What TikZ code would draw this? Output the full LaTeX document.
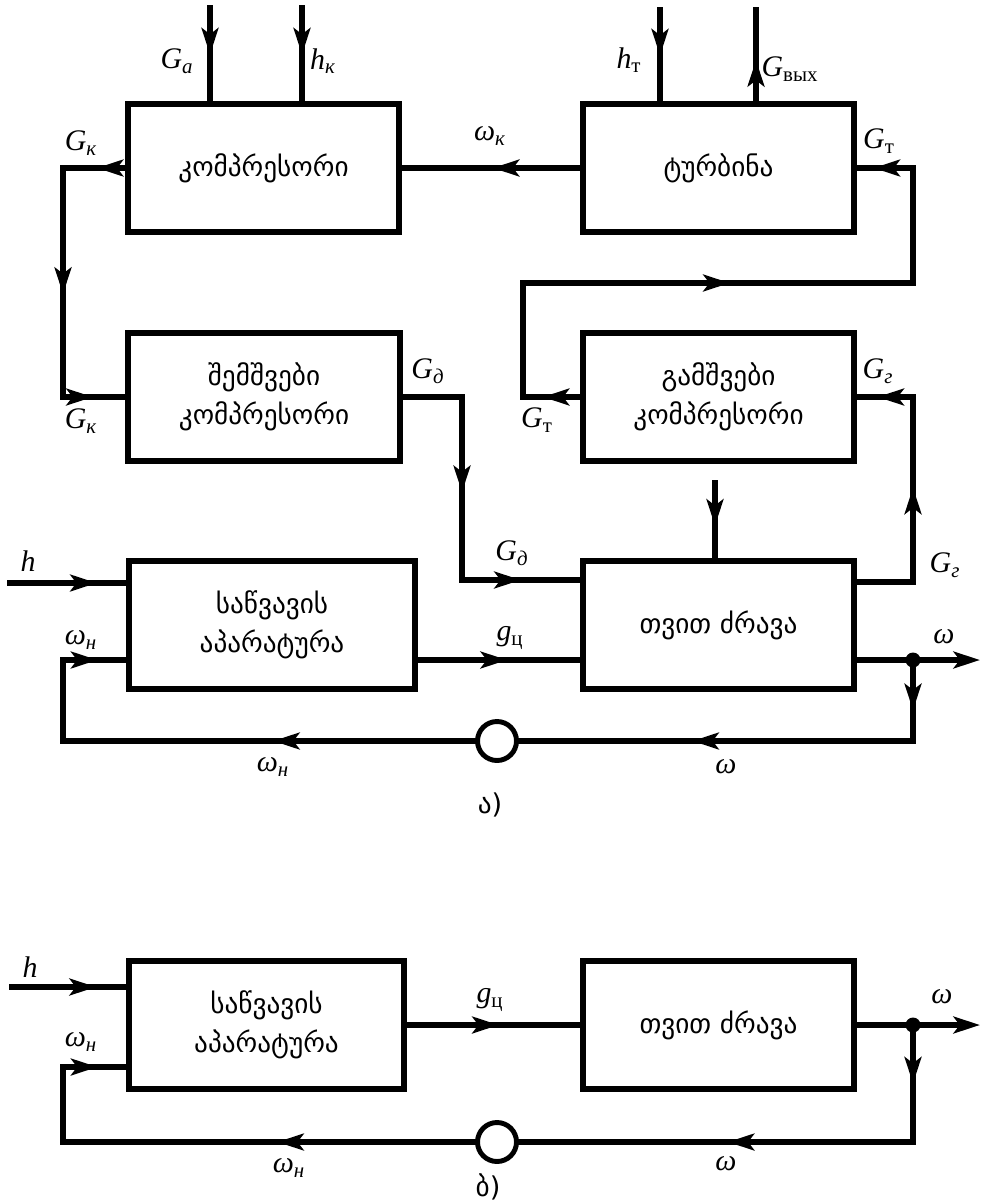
\documentclass[tikz,border=0pt]{standalone}
\usepackage{fontspec}
\newfontfamily\geo{DejaVu Sans}
\newfontfamily\lat{Liberation Serif}
\usetikzlibrary{arrows.meta,positioning,decorations.markings}
\newcommand{\ind}[2]{\textit{#1}\textsubscript{#2}}

\begin{document}
\begin{tikzpicture}[
    x=0.02cm, y=-0.02cm,
    bloc/.style={
        draw,
        line width=3.4pt,
        minimum width=5.44cm,
        minimum height=2.56cm,
        inner sep=0pt,
        align=center,
        font=\geo\fontsize{15.5}{22}\selectfont
    },
    lien/.style={
        line width=3pt,
        line cap=rect
    },
    fleche/.style={
        lien,
        postaction={decorate},
        decoration={markings,
            mark=at position #1 with {\arrow{Stealth[length=15pt,width=9.5pt,inset=3.5pt]}}}
    },
    fleche/.default=0.5,
    sortie/.style={
        lien,
        -{Stealth[length=15pt,width=9.5pt,inset=3.5pt]}
    },
    somme/.style={
        circle,
        draw,
        line width=2.8pt,
        minimum size=0.78cm,
        inner sep=0pt
    },
    formule/.style={
        font=\lat\fontsize{17}{20}\selectfont
    },
    titre/.style={
        font=\geo\fontsize{15.5}{18}\selectfont
    }
]
\useasboundingbox (0,0) rectangle (982,1203);

% schema a)
\node[bloc] (komp) at (263.5,168) {კომპრესორი};
\node[bloc] (turb) at (718.5,168) {ტურბინა};
\node[bloc] (shem) at (264,397) {შემშვები\\კომპრესორი};
\node[bloc] (gamsh) at (718.5,397) {გამშვები\\კომპრესორი};
\node[bloc, minimum width=5.74cm] (sapsa) at (272,625) {საწვავის\\აპარატურა};
\node[bloc] (dzrava) at (718.5,625) {თვით ძრავა};
\node[somme] (sum) at (497,741) {};

\coordinate (ga) at (210,8);
\coordinate (hk) at (302,8);
\coordinate (ht) at (660,10);
\coordinate (gv) at (756,10);
\draw[fleche] (ga) -- (ga |- komp.north);
\draw[fleche] (hk) -- (hk |- komp.north);
\draw[fleche] (ht) -- (ht |- turb.north);
\draw[fleche=0.45] (gv |- turb.north) -- (gv);
\draw[fleche=0.49] (turb) -- (komp);

\coordinate (k1) at (63,168);
\coordinate (k2) at (63,397);
\draw[fleche=0.45] (komp.west) -- (k1);
\draw[fleche=0.55] (k1) -- (k2);
\draw[fleche=0.48] (k2) -- (shem.west);

\coordinate (d1) at (462,397);
\coordinate (d2) at (462,580);
\draw[lien] (shem.east) -- (d1);
\draw[fleche=0.52] (d1) -- (d2);
\draw[fleche=0.5] (d2) -- (d2 -| dzrava.west);

\coordinate (g1) at (913,582);
\coordinate (g2) at (913,397);
\draw[lien] (g1 -| dzrava.east) -- (g1);
\draw[fleche=0.51] (g1) -- (g2);
\draw[fleche=0.64] (g2) -- (gamsh.east);

\coordinate (gm) at (715,483);
\draw[fleche=0.57] (gm) -- (gm |- dzrava.north);

\coordinate (t1) at (523,397);
\coordinate (t2) at (523,283);
\coordinate (t3) at (913,283);
\coordinate (t4) at (913,168);
\draw[fleche=0.65] (gamsh.west) -- (t1);
\draw[lien] (t1) -- (t2);
\draw[fleche=0.53] (t2) -- (t3);
\draw[lien] (t3) -- (t4);
\draw[fleche=0.71] (t4) -- (turb.east);

\coordinate (h0) at (10,583);
\coordinate (n1) at (63,660);
\coordinate (n2) at (63,741);
\draw[fleche=0.75] (h0) -- (h0 -| sapsa.west);
\draw[fleche=0.55] (n1) -- (n1 -| sapsa.west);
\draw[lien] (n2) -- (n1);
\draw[fleche=0.49] (sum) -- (n2);
\draw[fleche=0.55] (n1 -| sapsa.east) -- (n1 -| dzrava.west);

\coordinate (j) at (913,660);
\coordinate (w0) at (980,660);
\coordinate (w1) at (913,741);
\draw[lien] (j -| dzrava.east) -- (j);
\draw[sortie] (j) -- (w0);
\draw[fleche=0.62] (j) -- (w1);
\draw[fleche=0.56] (w1) -- (sum);
\fill (j) circle (0.15cm);

\node[formule] (lga) at (177,61) {\ind{G}{\textit{a}}};
\node[formule] (lhk) at (323,61) {\ind{h}{\textit{к}}};
\node[formule] (lgk1) at (81,143) {\ind{G}{\textit{к}}};
\node[formule] (lwk) at (490,136) {\ind{ω}{\textit{к}}};
\node[formule] (lht) at (629,60) {\ind{h}{т}};
\node[formule] (lgv) at (790,69) {\ind{G}{вых}};
\node[formule] (lgt1) at (879,141) {\ind{G}{т}};
\node[formule] (lgk2) at (81,421) {\ind{G}{\textit{к}}};
\node[formule] (lgd1) at (428,371) {\ind{G}{\textit{д}}};
\node[formule] (lgt2) at (537,420) {\ind{G}{т}};
\node[formule] (lgg1) at (878,371) {\ind{G}{\textit{г}}};
\node[formule] (lgg2) at (945,565) {\ind{G}{\textit{г}}};
\node[formule] (lgd2) at (512,553) {\ind{G}{\textit{д}}};
\node[formule] (lh) at (28,561) {\textit{h}};
\node[formule] (lwn1) at (81,640) {\ind{ω}{\textit{н}}};
\node[formule] (lgc) at (510,638) {\ind{g}{ц}};
\node[formule] (lw1) at (944,637) {\textit{ω}};
\node[formule] (lwn2) at (273,767) {\ind{ω}{\textit{н}}};
\node[formule] (lw2) at (726,767) {\textit{ω}};
\node[titre] (la) at (490,805) {ა)};

% schema b)
\node[bloc, minimum width=5.52cm] (sapsb) at (266.5,1025) {საწვავის\\აპარატურა};
\node[bloc] (dzravb) at (718.5,1025) {თვით ძრავა};
\node[somme] (sumb) at (497,1142) {};

\coordinate (hb0) at (12,987);
\coordinate (nb1) at (63,1067);
\coordinate (nb2) at (63,1142);
\draw[fleche=0.74] (hb0) -- (hb0 -| sapsb.west);
\draw[fleche=0.55] (nb1) -- (nb1 -| sapsb.west);
\draw[lien] (nb2) -- (nb1);
\draw[fleche=0.48] (sumb) -- (nb2);
\draw[fleche=0.53] (sapsb) -- (dzravb);

\coordinate (jb) at (913,1025);
\coordinate (wb0) at (980,1025);
\coordinate (wb1) at (913,1142);
\draw[lien] (dzravb) -- (jb);
\draw[sortie] (jb) -- (wb0);
\draw[fleche=0.5] (jb) -- (wb1);
\draw[fleche=0.47] (wb1) -- (sumb);
\fill (jb) circle (0.15cm);

\node[formule] (lhb) at (30,967) {\textit{h}};
\node[formule] (lwnb1) at (81,1042) {\ind{ω}{\textit{н}}};
\node[formule] (lgcb) at (490,1000) {\ind{g}{ц}};
\node[formule] (lwnb2) at (289,1168) {\ind{ω}{\textit{н}}};
\node[formule] (lwb1) at (942,997) {\textit{ω}};
\node[formule] (lwb2) at (726,1164) {\textit{ω}};
\node[titre] (lb) at (488,1187) {ბ)};

\end{tikzpicture}
\end{document}
